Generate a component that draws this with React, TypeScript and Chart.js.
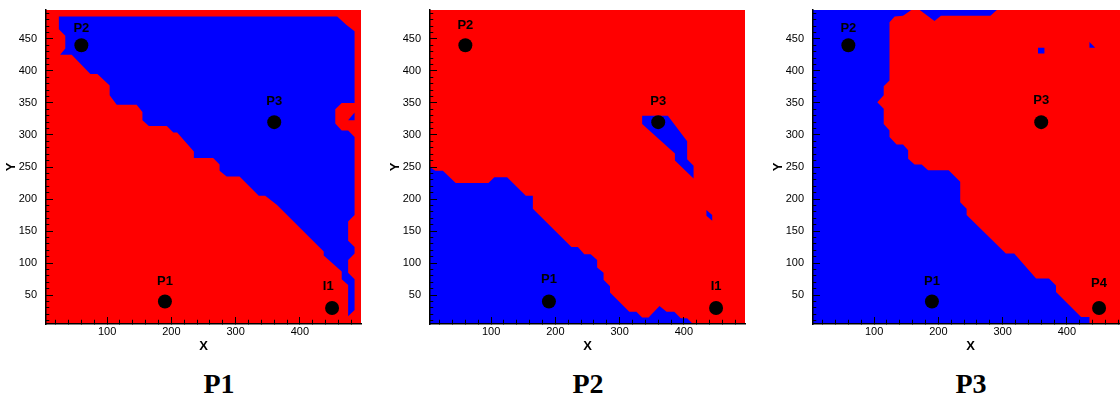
import React, { useEffect, useRef } from 'react';
import { Chart, registerables } from 'chart.js';

Chart.register(...registerables);
Chart.defaults.font.family = '"Liberation Sans", Arial, sans-serif';

// ---- axes ----
const xMin = 5;
const xMax = 495;
const yMin = 5;
const yMax = 495;
const xTickLabels = [100, 200, 300, 400];
const yTickLabels = [50, 100, 150, 200, 250, 300, 350, 400, 450];
const xMinorStep = 20;
const yMinorStep = 10;

// ---- marked points ----
const pointX = [190, 60, 360, 450];
const pointY = [40, 440, 320, 30];
const pointNamesA = ['P1', 'P2', 'P3', 'I1'];
const pointNamesB = ['P1', 'P2', 'P3', 'P4'];

// label anchors (data units)
const labelX1 = [190, 60, 360, 444];
const labelY1 = [71, 466, 352, 63];
const labelX2 = [190, 60, 360, 450];
const labelY2 = [75, 471, 352, 64];
const labelX3 = [190, 60, 360, 450];
const labelY3 = [71, 467, 354, 69];

// ---- regions (polygons in data units) ----
const fullDomain = [[5, 5], [495, 5], [495, 495], [5, 495], [5, 5]];

const p1BlueMain = [
  [25, 485], [458, 485], [472, 472], [485, 462], [485, 350], [465, 350], [455, 340], [455, 318],
  [465, 307], [475, 307], [485, 297], [485, 175], [475, 165], [475, 135], [485, 125], [485, 115],
  [475, 105], [475, 85], [485, 75], [485, 27], [475, 17], [475, 66], [465, 75], [465, 87],
  [437, 112], [437, 118], [364, 191], [346, 205], [336, 205], [306, 235], [286, 235], [275, 244],
  [275, 254], [265, 264], [235, 264], [235, 274], [209, 304], [203, 304], [193, 314], [165, 314],
  [155, 323], [155, 336], [146, 347], [115, 347], [104, 362], [104, 377], [85, 395], [74, 395],
  [45, 425], [27, 425], [35, 435], [35, 455], [25, 465], [25, 485],
];
const p1BlueSpot = [[475, 323], [485, 335], [485, 323], [475, 323]];

const p2BlueMain = [
  [5, 5], [5, 250], [13, 244], [25, 244], [45, 225], [96, 225], [105, 234], [125, 234],
  [154, 205], [165, 205], [165, 185], [225, 125], [235, 125], [245, 114], [255, 114], [265, 105],
  [265, 93], [275, 85], [275, 74], [285, 64], [285, 54], [315, 24], [326, 24], [335, 15],
  [345, 15], [362, 33], [373, 24], [385, 24], [395, 14], [405, 14], [414, 5], [5, 5],
];
const p2BlueStrip = [
  [335, 330], [375, 330], [405, 290], [405, 262], [415, 252], [415, 232], [386, 260], [386, 271],
  [335, 317], [335, 330],
];
const p2BlueSpot = [[435, 183], [444, 175], [444, 166], [435, 174], [435, 183]];

const p3RedMain = [
  [124, 476], [132, 485], [145, 486], [158, 495], [171, 495], [194, 478], [204, 486], [281, 486],
  [291, 495], [495, 495], [495, 5], [435, 5], [435, 16], [422, 16], [383, 55], [383, 65],
  [372, 76], [352, 76], [318, 115], [305, 115], [244, 175], [244, 185], [234, 195], [234, 227],
  [216, 245], [184, 245], [174, 254], [163, 254], [153, 263], [153, 276], [145, 285], [135, 285],
  [124, 297], [124, 307], [115, 317], [115, 341], [105, 351], [115, 362], [115, 376], [124, 385],
  [124, 476],
];
const p3BlueSquare = [[355, 427], [365, 427], [365, 436], [355, 436], [355, 427]];
const p3BlueTriangle = [[435, 445], [435, 436], [444, 436], [435, 445]];

const RED = '#ff0000';
const BLUE = '#0000ff';

type Region = { poly: number[][]; color: string };
type Panel = {
  canvasLeft: number;
  names: string[];
  lx: number[];
  ly: number[];
  regions: Region[];
  title: string;
  titleCenter: number;
};

const panels: Panel[] = [
  {
    canvasLeft: 0,
    names: pointNamesA,
    lx: labelX1,
    ly: labelY1,
    regions: [
      { poly: fullDomain, color: RED },
      { poly: p1BlueMain, color: BLUE },
      { poly: p1BlueSpot, color: BLUE },
    ],
    title: 'P1',
    titleCenter: 219,
  },
  {
    canvasLeft: 384,
    names: pointNamesA,
    lx: labelX2,
    ly: labelY2,
    regions: [
      { poly: fullDomain, color: RED },
      { poly: p2BlueMain, color: BLUE },
      { poly: p2BlueStrip, color: BLUE },
      { poly: p2BlueSpot, color: BLUE },
    ],
    title: 'P2',
    titleCenter: 588,
  },
  {
    canvasLeft: 767,
    names: pointNamesB,
    lx: labelX3,
    ly: labelY3,
    regions: [
      { poly: fullDomain, color: BLUE },
      { poly: p3RedMain, color: RED },
      { poly: p3BlueSquare, color: BLUE },
      { poly: p3BlueTriangle, color: BLUE },
    ],
    title: 'P3',
    titleCenter: 971,
  },
];

const CANVAS_W = 380;
const CANVAS_H = 360;

function tickValues(min: number, max: number, step: number) {
  const out: { value: number }[] = [];
  for (let v = Math.ceil(min / step) * step; v <= max; v += step) {
    if (v > min && v < max) out.push({ value: v });
  }
  return out;
}

function buildConfig(panel: Panel): any {
  const datasets: any[] = [];
  datasets.push({
    label: 'points',
    data: pointX.map((x, i) => ({ x, y: pointY[i] })),
    showLine: false,
    pointRadius: 7,
    pointHoverRadius: 7,
    pointBackgroundColor: '#000',
    pointBorderColor: '#000',
    pointBorderWidth: 0,
    borderWidth: 0,
    fill: false,
    order: 0,
  });
  panel.regions.forEach((r, i) => {
    datasets.push({
      label: 'region' + i,
      data: r.poly.map(([x, y]) => ({ x, y })),
      fill: 'shape',
      backgroundColor: r.color,
      borderColor: r.color,
      borderWidth: 0,
      pointRadius: 0,
      pointHoverRadius: 0,
      tension: 0,
      order: 100 - i,
    });
  });

  const labelPlugin = {
    id: 'pointLabels',
    afterDatasetsDraw(chart: any) {
      const { ctx } = chart;
      const xs = chart.scales.x;
      const ys = chart.scales.y;
      ctx.save();
      ctx.font = 'bold 13px "Liberation Sans", Arial, sans-serif';
      ctx.fillStyle = '#000';
      ctx.textAlign = 'center';
      ctx.textBaseline = 'middle';
      panel.names.forEach((n, i) => {
        ctx.fillText(n, xs.getPixelForValue(panel.lx[i]), ys.getPixelForValue(panel.ly[i]));
      });
      ctx.restore();
    },
  };

  const zeroPad = (s: any) => {
    s.paddingTop = 0;
    s.paddingBottom = 0;
    s.paddingLeft = 0;
    s.paddingRight = 0;
  };

  return {
    type: 'line',
    data: { datasets },
    plugins: [labelPlugin],
    options: {
      responsive: false,
      maintainAspectRatio: false,
      animation: false,
      events: [],
      layout: { padding: { top: 10, right: 19, left: 0, bottom: 0 } },
      plugins: {
        legend: { display: false },
        tooltip: { enabled: false },
        title: { display: false },
      },
      scales: {
        x: {
          type: 'linear',
          position: 'bottom',
          min: xMin,
          max: xMax,
          afterBuildTicks: (s: any) => {
            s.ticks = tickValues(xMin, xMax, xMinorStep);
          },
          afterFit: (s: any) => {
            s.height = 36;
            zeroPad(s);
          },
          ticks: {
            autoSkip: false,
            maxRotation: 0,
            padding: 8,
            color: '#000',
            font: { size: 11 },
            callback: (v: any) => (xTickLabels.includes(v) ? String(v) : ''),
          },
          grid: {
            display: true,
            drawOnChartArea: false,
            drawTicks: true,
            tickLength: -7,
            tickColor: '#000',
            tickWidth: 1,
            z: 1,
            tickBorderDash: (c: any) =>
              c.tick && xTickLabels.includes(c.tick.value) ? [] : [4.75, 100],
          },
          border: { display: true, color: '#000', width: 1.5, z: 1 },
          title: {
            display: true,
            text: 'X',
            color: '#000',
            font: { size: 13, weight: 'bold' },
            padding: { top: 0, bottom: 6 },
          },
        },
        y: {
          type: 'linear',
          position: 'left',
          min: yMin,
          max: yMax,
          afterBuildTicks: (s: any) => {
            s.ticks = tickValues(yMin, yMax, yMinorStep);
          },
          afterFit: (s: any) => {
            s.width = 46;
            zeroPad(s);
          },
          ticks: {
            autoSkip: false,
            padding: 16,
            color: '#000',
            font: { size: 11 },
            callback: (v: any) => (yTickLabels.includes(v) ? String(v) : ''),
          },
          grid: {
            display: true,
            drawOnChartArea: false,
            drawTicks: true,
            tickLength: -7,
            tickColor: '#000',
            tickWidth: 1,
            z: 1,
            tickBorderDash: (c: any) =>
              c.tick && yTickLabels.includes(c.tick.value) ? [] : [0, 3.75, 4, 100],
          },
          border: { display: true, color: '#000', width: 1.5, z: 1 },
          title: {
            display: true,
            text: 'Y',
            color: '#000',
            font: { size: 13, weight: 'bold' },
            padding: { top: 4, bottom: 0 },
          },
        },
      },
    },
  };
}

export default function App() {
  const refs = [useRef<HTMLCanvasElement>(null), useRef<HTMLCanvasElement>(null), useRef<HTMLCanvasElement>(null)];

  useEffect(() => {
    const charts: Chart[] = [];
    panels.forEach((p, i) => {
      const c = refs[i].current;
      if (c) charts.push(new Chart(c, buildConfig(p)));
    });
    return () => charts.forEach((ch) => ch.destroy());
  }, []);

  return (
    <div
      style={{
        position: 'fixed',
        left: 0,
        top: 0,
        width: 1120,
        height: 398,
        overflow: 'hidden',
        background: '#fff',
      }}
    >
      {panels.map((p, i) => (
        <canvas
          key={'c' + i}
          ref={refs[i]}
          width={CANVAS_W}
          height={CANVAS_H}
          style={{ position: 'absolute', left: p.canvasLeft, top: 0, width: CANVAS_W, height: CANVAS_H }}
        />
      ))}
      {panels.map((p, i) => (
        <div
          key={'t' + i}
          style={{
            position: 'absolute',
            left: p.titleCenter - 60,
            width: 120,
            top: 369.5,
            textAlign: 'center',
            font: 'bold 28px "Liberation Serif", "Times New Roman", serif',
            lineHeight: '28px',
            color: '#000',
          }}
        >
          {p.title}
        </div>
      ))}
    </div>
  );
}
